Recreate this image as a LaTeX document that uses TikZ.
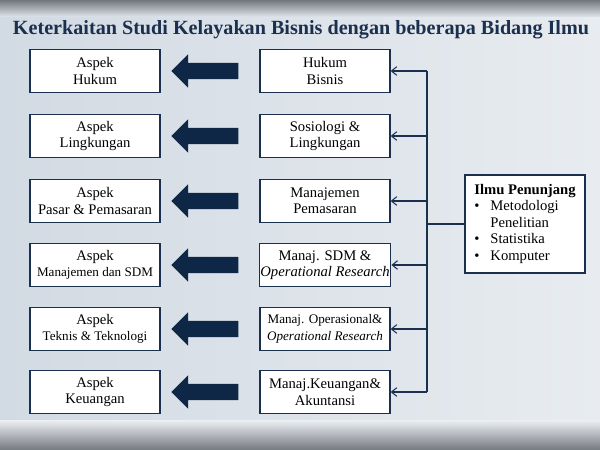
\documentclass[tikz,border=0pt]{standalone}
\usepackage{fontspec}
\setmainfont{Liberation Serif}
\usetikzlibrary{shapes.arrows,arrows.meta}
\definecolor{navy}{HTML}{1B2F4E}
\definecolor{arrownavy}{HTML}{0E2747}
\definecolor{bgleft}{HTML}{D2DAE3}
\definecolor{bgright}{HTML}{E8ECF0}
\definecolor{band}{HTML}{72767D}

\begin{document}
\begin{tikzpicture}[x=0.03cm,y=-0.03cm,
        box/.style={draw=navy,line width=1.1pt,fill=white,minimum width=3.9cm,minimum height=1.29cm,
            align=center,inner sep=1pt,font=\fontsize{12.5}{14}\selectfont},
        small/.style={font=\fontsize{11.2}{14}\selectfont},
        bigarrow/.style={single arrow,fill=arrownavy,shape border rotate=180,minimum height=2.01cm,
            minimum width=0.99cm,single arrow head extend=0.255cm,inner xsep=0pt,inner ysep=0.24cm},
        link/.style={draw=navy,line width=0.9pt,-{Straight Barb[length=1.6mm,width=2.6mm]}}]
    % background
    \useasboundingbox (0,0) rectangle (600,449);
    \shade[left color=bgleft,right color=bgright] (0,0) rectangle (600,449);
    \shade[top color=band,bottom color=bgleft!70!bgright] (0,0) rectangle (600,16);
    \shade[top color=bgright!80!white,bottom color=band!95!white] (0,420) rectangle (600,449);

    % title
    \node[text=navy,font=\fontsize{17.2}{20}\selectfont\bfseries] (title) at (301,30)
        {Keterkaitan Studi Kelayakan Bisnis dengan beberapa Bidang Ilmu};

    % aspek boxes
    \node[box] (l1) at (95,71) {Aspek\\Hukum};
    \node[box] (l2) at (95,136) {Aspek\\Lingkungan};
    \node[box] (l3) at (95,201) {Aspek\\Pasar \& Pemasaran};
    \node[box] (l4) at (95,265) {Aspek\\{\fontsize{11.2}{14}\selectfont Manajemen dan SDM}};
    \node[box] (l5) at (95,329) {Aspek\\{\fontsize{11.2}{14}\selectfont Teknis \& Teknologi}};
    \node[box] (l6) at (95,392) {Aspek\\Keuangan};

    % bidang ilmu boxes
    \node[box] (m1) at (325,71) {Hukum\\Bisnis};
    \node[box] (m2) at (325,136) {Sosiologi \&\\Lingkungan};
    \node[box] (m3) at (325,201) {Manajemen\\Pemasaran};
    \node[box] (m4) at (325,265) {Manaj. SDM \&\\\textit{Operational Research}};
    \node[box,small] (m5) at (325,329) {Manaj. Operasional\&\\\textit{Operational Research}};
    \node[box] (m6) at (325,392) {Manaj.Keuangan\&\\Akuntansi};

    % big arrows
    \node[bigarrow] (a1) at (209,71) {};
    \node[bigarrow] (a2) at (209,136) {};
    \node[bigarrow] (a3) at (209,201) {};
    \node[bigarrow] (a4) at (209,265) {};
    \node[bigarrow] (a5) at (209,329) {};
    \node[bigarrow] (a6) at (209,392) {};

    % ilmu penunjang
    \node[box,minimum width=3.6cm,minimum height=2.94cm,inner sep=3pt] (ilmu) at (525,224)
        {\begin{tabular}{@{}l@{\hspace{0.75em}}l@{}}
            \multicolumn{2}{@{}l@{}}{\textbf{Ilmu Penunjang}}\\
            \textbullet & Metodologi\\
                        & Penelitian\\
            \textbullet & Statistika\\
            \textbullet & Komputer
        \end{tabular}};

    \coordinate (rail) at (427,71);
    \draw[navy,line width=0.9pt] (m1.east -| rail) -- (m6.east -| rail);
    \draw[navy,line width=0.9pt] (ilmu.west) -- (ilmu.west -| rail);
    \draw[link] (m1.east -| rail) -- (m1.east);
    \draw[link] (m2.east -| rail) -- (m2.east);
    \draw[link] (m3.east -| rail) -- (m3.east);
    \draw[link] (m4.east -| rail) -- (m4.east);
    \draw[link] (m5.east -| rail) -- (m5.east);
    \draw[link] (m6.east -| rail) -- (m6.east);
\end{tikzpicture}
\end{document}
